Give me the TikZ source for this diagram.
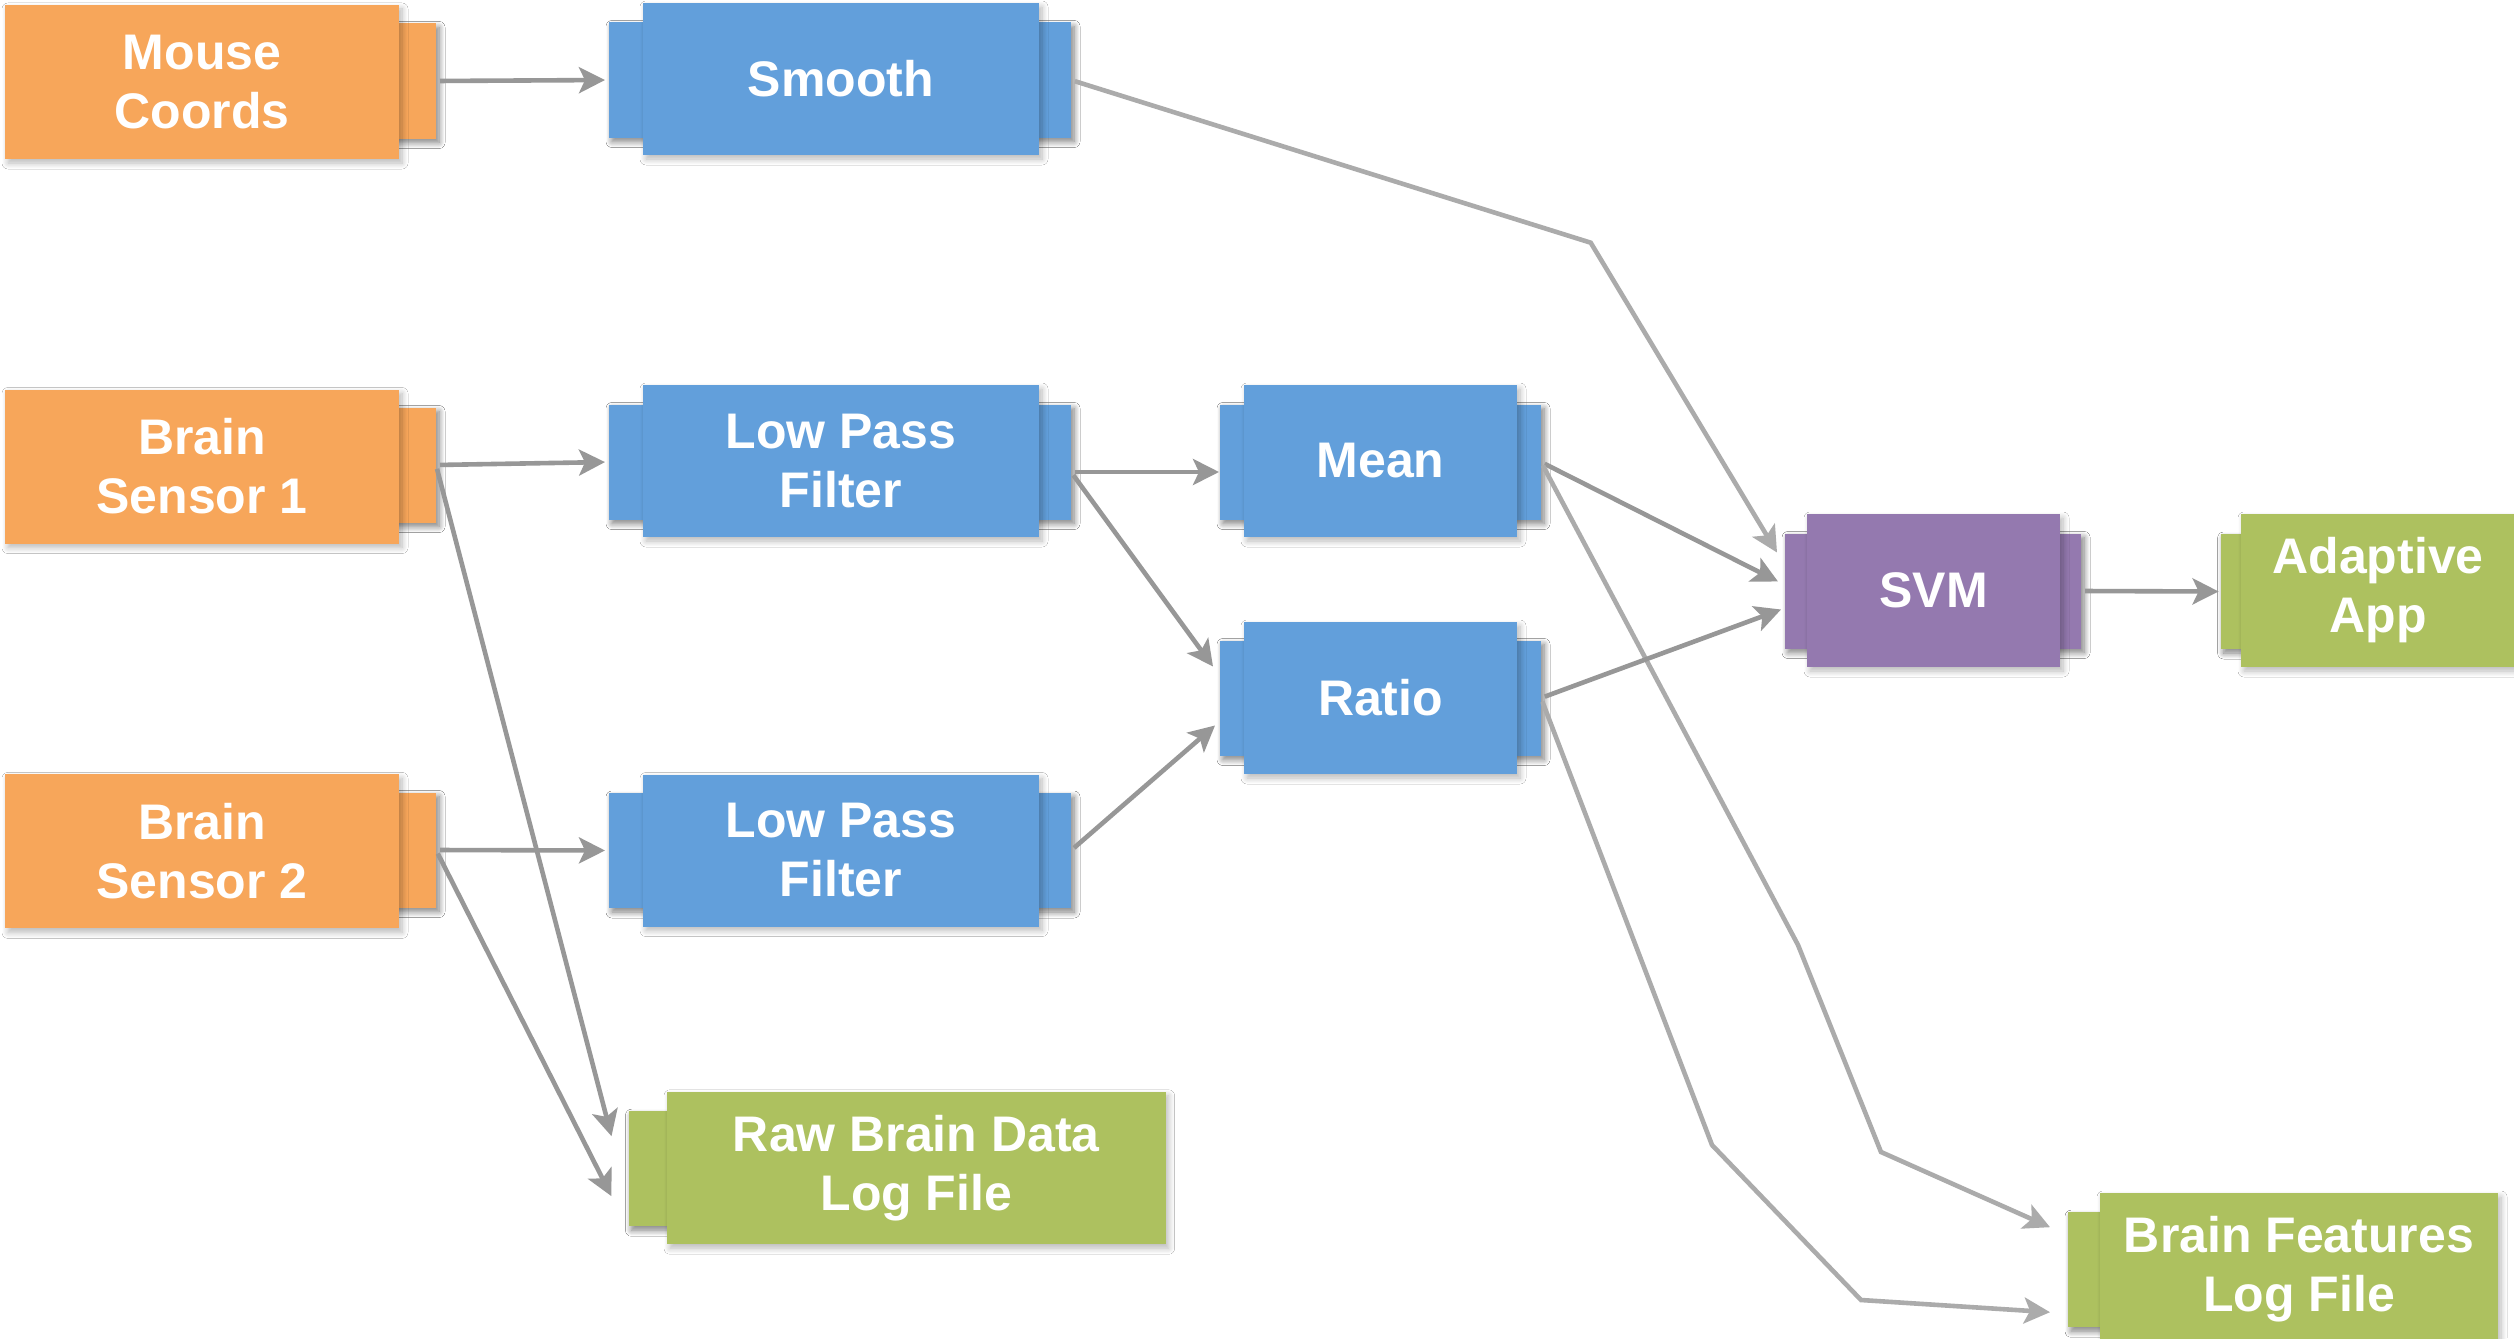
\documentclass[tikz,border=0pt]{standalone}
\usepackage{fontspec}
\setmainfont{Liberation Sans}
\usetikzlibrary{arrows.meta,shadows.blur,calc}
\definecolor{orangeC}{HTML}{F7A65A}
\definecolor{blueC}{HTML}{629FDB}
\definecolor{purpleC}{HTML}{9479AF}
\definecolor{greenC}{HTML}{ADC15F}
\definecolor{lineDark}{HTML}{979797}
\definecolor{lineLight}{HTML}{ABABAB}
\begin{document}
\begin{tikzpicture}[x=0.5pt,y=-0.5pt,
  blk/.style={rectangle, inner sep=0pt, outer sep=0pt, draw=none, text=white, align=center,
    font=\fontsize{25}{29.5}\selectfont\bfseries,
    blur shadow={shadow xshift=1.5pt, shadow yshift=-2pt, shadow blur radius=3pt, shadow blur steps=8, shadow opacity=28}},
  tabblk/.style={blk, minimum height=57.5pt},
  ob/.style={blk, fill=orangeC},
  bb/.style={blk, fill=blueC},
  pb/.style={blk, fill=purpleC},
  gb/.style={blk, fill=greenC},
  conn/.style={line width=2.3pt, draw=lineDark, -{Stealth[length=13pt,width=13pt,inset=3pt]}, shorten <=2pt},
  connL/.style={conn, draw=lineLight},
]
\useasboundingbox[fill=white] (0,0) rectangle (2514,1338);

% ---- orange sources
\node[ob, tabblk, minimum width=23pt] (mouseT) at (413,81) {};
\node[ob, minimum width=197pt, minimum height=77pt] (mouse) at (202,82) {Mouse\\Coords};
\node[ob, tabblk, minimum width=23pt] (bs1T) at (413,465) {};
\node[ob, minimum width=197pt, minimum height=77pt] (bs1) at (202,466.5) {Brain\\Sensor 1};
\node[ob, tabblk, minimum width=23pt] (bs2T) at (413,850) {};
\node[ob, minimum width=197pt, minimum height=77pt] (bs2) at (202,851.4) {Brain\\Sensor 2};

% ---- blue wide
\node[bb, tabblk, minimum width=22pt] (smoothL) at (631,80) {};
\node[bb, tabblk, minimum width=21pt] (smoothR) at (1050,80) {};
\node[bb, minimum width=198pt, minimum height=76pt] (smooth) at (841,79) {Smooth};
\node[bb, tabblk, minimum width=22pt] (lpf1L) at (631,462) {};
\node[bb, tabblk, minimum width=21pt] (lpf1R) at (1050,462) {};
\node[bb, minimum width=198pt, minimum height=76pt] (lpf1) at (841,461) {Low Pass\\Filter};
\node[bb, tabblk, minimum width=22pt] (lpf2L) at (631,850.5) {};
\node[bb, tabblk, minimum width=21pt] (lpf2R) at (1050,850.5) {};
\node[bb, minimum width=198pt, minimum height=76pt] (lpf2) at (841,850.5) {Low Pass\\Filter};

% ---- blue narrow
\node[bb, tabblk, minimum width=17pt] (meanL) at (1237,462) {};
\node[bb, tabblk, minimum width=17pt] (meanR) at (1524,462) {};
\node[bb, minimum width=136.5pt, minimum height=76pt] (mean) at (1380.5,461) {Mean};
\node[bb, tabblk, minimum width=17pt] (ratioL) at (1237,698) {};
\node[bb, tabblk, minimum width=17pt] (ratioR) at (1524,698) {};
\node[bb, minimum width=136.5pt, minimum height=76pt] (ratio) at (1380.5,698) {Ratio};

% ---- purple
\node[pb, tabblk, minimum width=16pt] (svmL) at (1801,591) {};
\node[pb, tabblk, minimum width=15.5pt] (svmR) at (2065.5,591) {};
\node[pb, minimum width=126.5pt, minimum height=76.5pt] (svm) at (1933.5,590.5) {SVM};

% ---- green sinks
\node[gb, tabblk, minimum width=15.2pt] (adL) at (2235.8,591.5) {};
\node[gb, minimum width=137pt, minimum height=76.5pt] (adapt) at (2378,590.5) {Adaptive\\App};
\node[gb, tabblk, minimum width=24.25pt] (rawL) at (652.75,1168.7) {};
\node[gb, minimum width=249.3pt, minimum height=76.2pt] (raw) at (916.3,1168) {Raw Brain Data\\Log File};
\node[gb, tabblk, minimum width=21pt] (bfL) at (2089,1269.7) {};
\node[gb, minimum width=199pt, minimum height=76pt] (bf) at (2299,1269) {Brain Features\\Log File};

% ---- connector ends
\coordinate (lpf1out) at ($(lpf1R.east)+(0,10)$);
\coordinate (meanIn) at ($(meanL.west)+(-1,10)$);
\coordinate (svmIn1) at ($(svmL.north west)+(-8,19)$);
\coordinate (svmIn2) at ($(svmL.north west)+(-7,48)$);
\coordinate (svmIn3) at ($(svmL.north west)+(-4,76)$);
\coordinate (rawIn1) at ($(rawL.north west)+(-17,25)$);
\coordinate (rawIn2) at ($(rawL.north west)+(-17,85)$);
\coordinate (ratioIn1) at ($(ratioL.north west)+(-7,26)$);
\coordinate (ratioIn2) at ($(ratioL.north west)+(-5,85)$);
\coordinate (bfIn1) at ($(bfL.north west)+(-18,15)$);
\coordinate (bfIn2) at ($(bfL.north west)+(-18,100)$);
\coordinate (bendA) at (1590.7,242.7);
\coordinate (bendB1) at (1798,945);
\coordinate (bendB2) at (1881,1152);
\coordinate (bendC1) at (1712,1145);
\coordinate (bendC2) at (1861,1300);

% ---- connectors
\draw[conn, shorten >=2pt] (mouseT.east) -- (smoothL.west);
\draw[connL] (smoothR.east) -- (bendA) -- (svmIn1);
\draw[conn, shorten >=2pt] (bs1T.east) -- (lpf1L.west);
\draw[conn] (bs1T.east) -- (rawIn1);
\draw[conn, shorten >=2pt] (bs2T.east) -- (lpf2L.west);
\draw[conn] (bs2T.east) -- (rawIn2);
\draw[conn] (lpf1out) -- (meanIn);
\draw[conn] (lpf1out) -- (ratioIn1);
\draw[conn] (lpf2R.east) -- (ratioIn2);
\draw[conn] (meanR.east) -- (svmIn2);
\draw[connL] (meanR.east) -- (bendB1) -- (bendB2) -- (bfIn1);
\draw[conn] (ratioR.east) -- (svmIn3);
\draw[connL] (ratioR.east) -- (bendC1) -- (bendC2) -- (bfIn2);
\draw[conn, shorten >=1pt] (svmR.east) -- (adL.west);
\end{tikzpicture}
\end{document}
